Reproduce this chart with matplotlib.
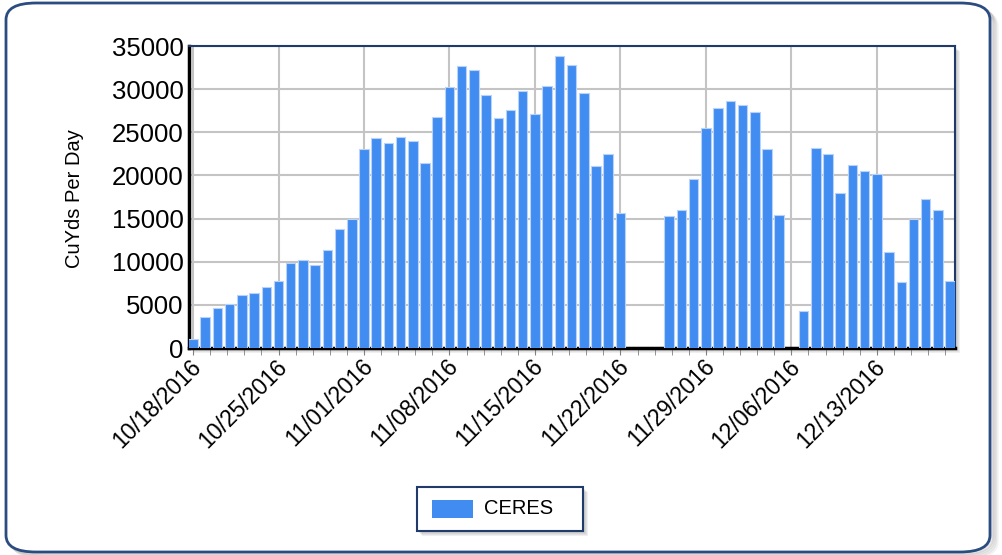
import matplotlib
matplotlib.use('Agg')
import matplotlib.pyplot as plt
import matplotlib.dates as mdates
from matplotlib.patches import FancyBboxPatch, Rectangle
from matplotlib.ticker import FixedLocator
import numpy as np

plt.rcParams['font.family'] = ['Liberation Sans', 'DejaVu Sans']

# daily volumes, days with no hauling are left out
dates = ['2016-10-18', '2016-10-19', '2016-10-20', '2016-10-21', '2016-10-22', '2016-10-23',
         '2016-10-24', '2016-10-25', '2016-10-26', '2016-10-27', '2016-10-28', '2016-10-29',
         '2016-10-30', '2016-10-31', '2016-11-01', '2016-11-02', '2016-11-03', '2016-11-04',
         '2016-11-05', '2016-11-06', '2016-11-07', '2016-11-08', '2016-11-09', '2016-11-10',
         '2016-11-11', '2016-11-12', '2016-11-13', '2016-11-14', '2016-11-15', '2016-11-16',
         '2016-11-17', '2016-11-18', '2016-11-19', '2016-11-20', '2016-11-21', '2016-11-22',
         '2016-11-26', '2016-11-27', '2016-11-28', '2016-11-29', '2016-11-30', '2016-12-01',
         '2016-12-02', '2016-12-03', '2016-12-04', '2016-12-05',
         '2016-12-07', '2016-12-08', '2016-12-09', '2016-12-10', '2016-12-11', '2016-12-12',
         '2016-12-13', '2016-12-14', '2016-12-15', '2016-12-16', '2016-12-17', '2016-12-18',
         '2016-12-19']
cuyds = [1000, 3570, 4650, 5120, 6120, 6360, 7050, 7790, 9810, 10190, 9570, 11320,
         13760, 14920, 23060, 24340, 23800, 24460, 24030, 21470, 26820, 30270, 32640, 32210,
         29300, 26710, 27600, 29730, 27130, 30310, 33840, 32750, 29530, 21050, 22520, 15660,
         15310, 16050, 19610, 25500, 27830, 28640, 28180, 27360, 23060, 15470,
         4340, 23180, 22440, 17910, 21160, 20500, 20160, 11090, 7640, 14920, 17250, 15970,
         7710]
tick_dates = ['2016-10-18', '2016-10-25', '2016-11-01', '2016-11-08', '2016-11-15',
              '2016-11-22', '2016-11-29', '2016-12-06', '2016-12-13']
series_name = 'CERES'
y_label = 'CuYds Per Day'

W, H = 1003, 555
fig = plt.figure(figsize=(W / 100, H / 100), dpi=100)

# outer rounded frame with a soft shadow
for i, a in enumerate([0.06, 0.05, 0.04, 0.03]):
  off = (i + 1) * 1.5
  fig.patches.append(FancyBboxPatch((7 / W + off / W, 3 / H - off / H), 984 / W, 548 / H,
                                    boxstyle='round,pad=0,rounding_size=0.03',
                                    transform=fig.transFigure, facecolor='none',
                                    edgecolor='gray', lw=2.5, alpha=a * 3, zorder=0))
fig.patches.append(FancyBboxPatch((6 / W, 3 / H), 984 / W, 549 / H,
                                  boxstyle='round,pad=0,rounding_size=0.03',
                                  transform=fig.transFigure, facecolor='white',
                                  edgecolor='#2b4c80', lw=2, zorder=1))

left, right, top, bottom = 189, 955, 46, 348
ax_rect = [left / W, 1 - bottom / H, (right - left) / W, (bottom - top) / H]

# axes shadow
for i in range(4):
  fig.patches.append(Rectangle(((left + 2 + i) / W, (H - bottom - 2 - i) / H),
                               (right - left) / W, (bottom - top) / H,
                               transform=fig.transFigure, facecolor='gray',
                               edgecolor='none', alpha=0.12, zorder=2))

ax = fig.add_axes(ax_rect, zorder=3)
x = mdates.date2num(np.array(dates, dtype='datetime64[D]'))
ax.bar(x, cuyds, width=0.78, color='#418cf0', edgecolor='#b8d2fa', linewidth=0.8,
       zorder=3, label=series_name)

x0 = mdates.date2num(np.datetime64('2016-10-18'))
ax.set_xlim(x0 - 0.33, x0 + 62.4)
ax.set_ylim(0, 35000)
ax.set_yticks(np.arange(0, 35001, 5000))

major = mdates.date2num(np.array(tick_dates, dtype='datetime64[D]'))
ax.set_xticks(major)
ax.set_xticklabels([])
# rotated date labels, placed a bit right of the tick like the original
for xm, d in zip(major, tick_dates):
  ax.annotate(d[5:7] + '/' + d[8:10] + '/' + d[:4], xy=(xm, 0),
              xycoords=ax.get_xaxis_transform(), xytext=(5, -15), textcoords='offset pixels',
              rotation=45, ha='right', va='center', rotation_mode='anchor', fontsize=16.5,
              annotation_clip=False)
ax.xaxis.set_minor_locator(FixedLocator(np.arange(x0, x0 + 63, 1.4)))
ax.tick_params(axis='x', which='both', direction='out', length=5, color='#808080')
ax.tick_params(axis='y', length=0, labelsize=18.5, pad=4)

ax.grid(True, which='major', color='#c4c4c4', lw=1.5, zorder=0)
ax.set_axisbelow(True)

for s in ['left', 'bottom']:
  ax.spines[s].set_color('black')
  ax.spines[s].set_linewidth(2.5)
for s in ['top', 'right']:
  ax.spines[s].set_color('#1f3a6b')
  ax.spines[s].set_linewidth(1.5)

fig.text(75 / W, 1 - 199 / H, y_label, rotation=90, ha='center', va='center', fontsize=14.5)

# legend box with shadow
lx, ly, lw_, lh = 417, 487, 166, 44
for i in range(4):
  fig.patches.append(Rectangle(((lx + 2 + i) / W, (H - ly - lh - 2 - i) / H), lw_ / W, lh / H,
                               transform=fig.transFigure, facecolor='gray',
                               edgecolor='none', alpha=0.12, zorder=4))
fig.patches.append(Rectangle((lx / W, (H - ly - lh) / H), lw_ / W, lh / H,
                             transform=fig.transFigure, facecolor='white',
                             edgecolor='#1f3a6b', lw=1.5, zorder=5))
fig.patches.append(Rectangle((432 / W, (H - 518) / H), 41 / W, 18 / H,
                             transform=fig.transFigure, facecolor='#418cf0',
                             edgecolor='none', zorder=6))
fig.text(484 / W, 1 - 509 / H, series_name, ha='left', va='center', fontsize=14.5, zorder=6)

fig.savefig('out.png', dpi=100)
